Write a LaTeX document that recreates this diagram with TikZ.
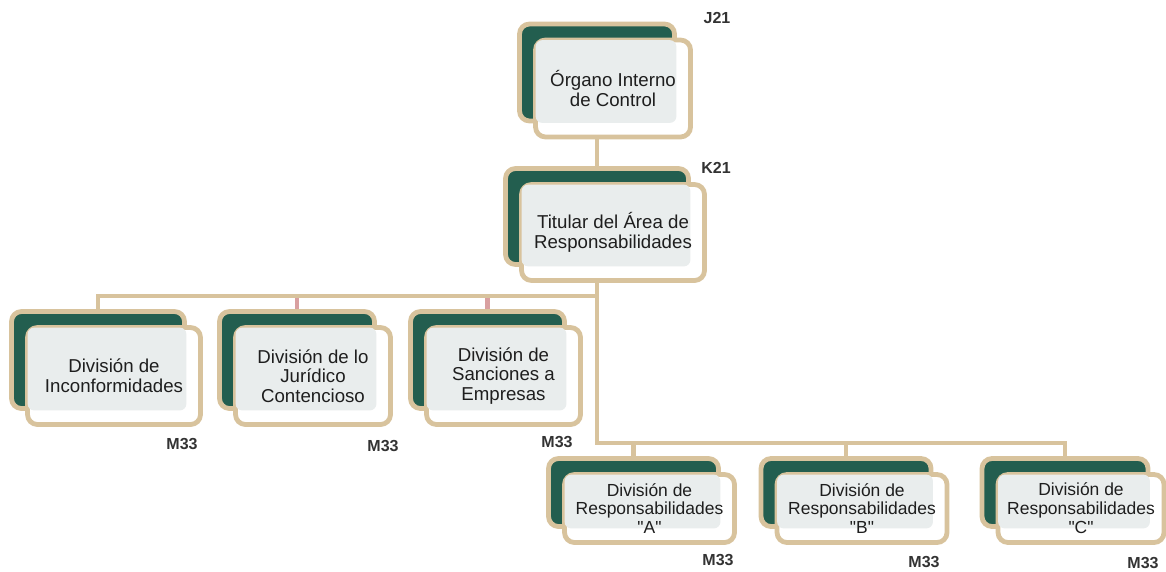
\documentclass[tikz,border=0pt]{standalone}
\usepackage{fontspec}
\setmainfont{Liberation Sans}
\newfontfamily\qfont{Liberation Sans}
\usetikzlibrary{calc,backgrounds}
\definecolor{tanc}{HTML}{D8C39D}
\definecolor{dgreen}{HTML}{235E4F}
\definecolor{lgray}{HTML}{E9EDED}
\definecolor{pinkc}{HTML}{D9A0A0}
\definecolor{txt}{HTML}{1E1E1E}
\definecolor{lab}{HTML}{333333}
\newcommand\px{0.75pt}
\newcommand\dq{{\qfont\symbol{34}}}
\tikzset{
 backbox/.style={draw=tanc, fill=dgreen, line width=3.6pt, rounded corners=7.5pt, inner sep=0pt},
 frontbox/.style={draw=tanc, fill=white, line width=3.6pt, rounded corners=7.5pt, inner sep=0pt},
 conn/.style={draw=tanc, line width=3.2pt},
 pconn/.style={draw=pinkc, line width=3.2pt},
 codelab/.style={font=\fontsize{12}{12}\selectfont\bfseries, text=lab, inner sep=0pt},
 bigtext/.style={font=\fontsize{14}{14.8}\selectfont},
 smalltext/.style={font=\fontsize{13.1}{14.2}\selectfont},
}
\newcommand\orgunit[7]{%
 \node[backbox, minimum width=#4*\px, minimum height=#5*\px] (#1b) at (#2-16,#3-16) {};
 \node[frontbox, minimum width=#4*\px, minimum height=#5*\px] (#1f) at (#2,#3) {};
 \fill[lgray, rounded corners=5pt] ($(#1f.north west)+(2.5,2.5)$) rectangle ($(#1b.south east)+(-0.5,-0.5)$);
 \node[align=center, text=txt, inner sep=0pt, #6] (#1t) at (#1f.center) {#7};
}
\begin{document}
\begin{tikzpicture}[x=0.75pt,y=-0.75pt]
\useasboundingbox (0,0) rectangle (1166,571);
\orgunit{org}{613}{88.5}{155}{97}{bigtext}{Órgano Interno\\de Control}
\orgunit{tit}{613}{232.5}{183}{96}{bigtext}{Titular del Área de\\Responsabilidades}
\orgunit{inc}{114}{376}{173}{97}{bigtext}{División de\\Inconformidades}
\orgunit{jur}{313}{376}{155}{97}{bigtext}{División de lo\\Jurídico\\Contencioso}
\orgunit{san}{503.5}{376}{154}{97}{bigtext}{División de\\Sanciones a\\Empresas}
\orgunit{ra}{649.5}{508.5}{170}{68}{smalltext}{División de\\Responsabilidades\\\dq A\dq}
\orgunit{rb}{862}{508.5}{170}{68}{smalltext}{División de\\Responsabilidades\\\dq B\dq}
\orgunit{rc}{1081}{508.5}{166}{68}{smalltext}{División de\\Responsabilidades\\\dq C\dq}
\coordinate (bus1) at (0,296);
\coordinate (bus2) at (0,443);
\begin{scope}[on background layer]
 \draw[pconn] ($(jurb.north |- bus1)+(0,2)$) -- (jurb.north);
 \draw[pconn] ($(sanb.north |- bus1)+(0,2)$) -- (sanb.north);
 \draw[conn] (orgb.south) -- (titb.north);
 \draw[conn] (titb.south) -- (titb.south |- bus2) -| (rcb.north);
 \draw[conn] (titb.south |- bus1) -| (incb.north);
 \draw[conn] (rab.north |- bus2) -- (rab.north);
 \draw[conn] (rbb.north |- bus2) -- (rbb.north);
\end{scope}
\node[codelab] (l1) at (717,18) {J21};
\node[codelab] (l2) at (716,168) {K21};
\node[codelab] (l3) at (182,444) {M33};
\node[codelab] (l4) at (383,446) {M33};
\node[codelab] (l5) at (557,442) {M33};
\node[codelab] (l6) at (718,560) {M33};
\node[codelab] (l7) at (924,562) {M33};
\node[codelab] (l8) at (1143,563) {M33};
\end{tikzpicture}
\end{document}
